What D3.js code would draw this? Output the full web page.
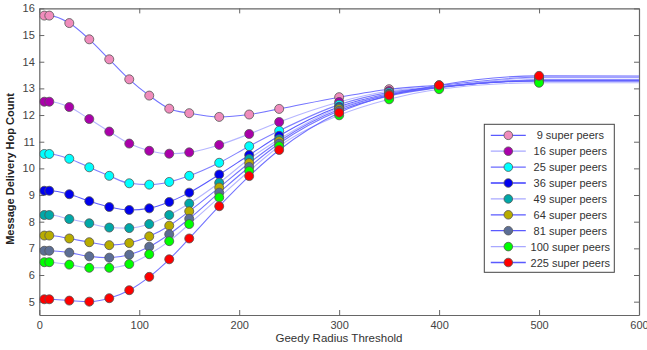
<!DOCTYPE html>
<html>
<head>
<meta charset="utf-8">
<script src="https://cdn.jsdelivr.net/npm/d3@7"></script>
<style>
  html, body { margin: 0; padding: 0; background: #fff; }
  svg { display: block; }
  text { font-family: "Liberation Sans", Arial, sans-serif; }
</style>
</head>
<body>
<svg id="chart" width="647" height="350"></svg>
<script>
// ---------- data ----------
const xValues = [5, 10, 30, 50, 70, 90, 110, 130, 150, 180, 210, 240, 300, 350, 400, 500, 1000];
const seriesNames = ["9 super peers", "16 super peers", "25 super peers", "36 super peers", "49 super peers",
                     "64 super peers", "81 super peers", "100 super peers", "225 super peers"];
const peers9   = [15.73, 15.73, 15.45, 14.84, 14.09, 13.34, 12.73, 12.24, 12.07, 11.93, 12.02, 12.23, 12.67, 12.97, 13.12, 13.42, 13.42];
const peers16  = [12.50, 12.50, 12.30, 11.85, 11.38, 10.93, 10.66, 10.55, 10.60, 10.88, 11.29, 11.74, 12.49, 12.90, 13.07, 13.40, 13.40];
const peers25  = [10.54, 10.54, 10.36, 10.04, 9.72, 9.44, 9.39, 9.49, 9.72, 10.21, 10.83, 11.41, 12.39, 12.85, 13.05, 13.32, 13.32];
const peers36  = [9.16, 9.16, 9.03, 8.77, 8.55, 8.44, 8.50, 8.74, 9.09, 9.77, 10.50, 11.22, 12.31, 12.80, 13.05, 13.30, 13.30];
const peers49  = [8.25, 8.25, 8.10, 7.94, 7.78, 7.76, 7.91, 8.25, 8.68, 9.46, 10.35, 11.09, 12.27, 12.78, 13.04, 13.30, 13.30];
const peers64  = [7.48, 7.48, 7.37, 7.23, 7.12, 7.20, 7.45, 7.85, 8.39, 9.28, 10.20, 11.02, 12.22, 12.76, 13.04, 13.28, 13.28];
const peers81  = [6.91, 6.91, 6.84, 6.70, 6.65, 6.76, 7.06, 7.53, 8.11, 9.09, 10.05, 10.93, 12.16, 12.72, 13.03, 13.28, 13.28];
const peers100 = [6.48, 6.48, 6.39, 6.27, 6.27, 6.41, 6.78, 7.27, 7.91, 8.91, 9.90, 10.83, 11.99, 12.59, 12.97, 13.21, 13.21];
const peers225 = [5.09, 5.09, 5.04, 5.00, 5.13, 5.43, 5.93, 6.59, 7.37, 8.58, 9.71, 10.69, 12.09, 12.74, 13.12, 13.47, 13.44];
const xTicks = [0, 100, 200, 300, 400, 500, 600];
const yTicks = [5, 6, 7, 8, 9, 10, 11, 12, 13, 14, 15, 16];

const allSeries = [peers9, peers16, peers25, peers36, peers49, peers64, peers81, peers100, peers225];
const markerColors = ["#f08cbc", "#aa00aa", "#00ffff", "#0000ee", "#00a8a8", "#b8ac00", "#5c6e94", "#00ff00", "#ff0000"];
const lineColors = ["#5a5aff", "#a8a8ff", "#6a6aff", "#3c3cff", "#a8a8ff", "#5a5aff", "#5a5aff", "#a8a8ff", "#5a5aff"];

// ---------- layout ----------
const svg = d3.select("#chart");
const L = 39.3, R = 639, T = 8.4, B = 315;
const x = d3.scaleLinear().domain([0, 600]).range([L, R]);
const y = d3.scaleLinear().domain([4.5, 16]).range([B, T]);
const axisColor = "#666";
const textColor = "#444";

svg.append("defs").append("clipPath").attr("id", "plotclip")
  .append("rect").attr("x", L).attr("y", T).attr("width", R - L).attr("height", B - T);

// axes with inward ticks
function styleAxis(g) {
  g.select(".domain").attr("stroke", axisColor).attr("stroke-width", 1.2);
  g.selectAll(".tick line").attr("stroke", axisColor).attr("stroke-width", 1);
  g.selectAll(".tick text").attr("fill", textColor).style("font-size", "11px")
    .style("font-family", "'Liberation Sans', Arial, sans-serif");
}
svg.append("g").attr("transform", `translate(0,${B})`)
  .call(d3.axisBottom(x).tickValues(xTicks).tickSizeInner(-5).tickSizeOuter(0).tickPadding(6))
  .call(styleAxis);
svg.append("g").attr("transform", `translate(${L},0)`)
  .call(d3.axisLeft(y).tickValues(yTicks).tickSizeInner(-5).tickSizeOuter(0).tickPadding(4.5))
  .call(styleAxis);
svg.append("g").attr("transform", `translate(0,${T})`)
  .call(d3.axisTop(x).tickValues(xTicks).tickSizeInner(-5).tickSizeOuter(0).tickFormat(""))
  .call(styleAxis);
svg.append("g").attr("transform", `translate(${R},0)`)
  .call(d3.axisRight(y).tickValues(yTicks).tickSizeInner(-5).tickSizeOuter(0).tickFormat(""))
  .call(styleAxis);

// axis titles
svg.append("text").attr("x", 339).attr("y", 342).attr("text-anchor", "middle")
  .attr("fill", "#333").style("font-size", "11.5px").text("Geedy Radius Threshold");
svg.append("text").attr("transform", `translate(14,169) rotate(-90)`)
  .attr("text-anchor", "middle").attr("fill", "#222").style("font-size", "11px")
  .style("font-weight", "bold").text("Message Delivery Hop Count");

// ---------- lines and markers ----------
const plot = svg.append("g").attr("clip-path", "url(#plotclip)");
const line = d3.line().x(d => x(d[0])).y(d => y(d[1])).curve(d3.curveMonotoneX);

allSeries.forEach((vals, i) => {
  const pts = xValues.map((xv, j) => [xv, vals[j]]);
  plot.append("path").datum(pts).attr("d", line)
    .attr("fill", "none").attr("stroke", lineColors[i]).attr("stroke-width", 1.1).attr("stroke-opacity", 0.85);
});
allSeries.forEach((vals, i) => {
  const pts = xValues.map((xv, j) => [xv, vals[j]]);
  plot.selectAll(null).data(pts).enter().append("circle")
    .attr("cx", d => x(d[0])).attr("cy", d => y(d[1])).attr("r", 4.5)
    .attr("fill", markerColors[i]).attr("stroke", "#555").attr("stroke-width", 0.8);
});

// ---------- legend ----------
const legX = 484.3, legY = 124.3, legW = 130, legH = 148, rowH = 15.9;
const leg = svg.append("g");
leg.append("rect").attr("x", legX).attr("y", legY).attr("width", legW).attr("height", legH)
  .attr("fill", "#fff").attr("stroke", "#444").attr("stroke-width", 1);
seriesNames.forEach((name, i) => {
  const cy = legY + 11 + i * rowH;
  leg.append("line").attr("x1", legX + 6.5).attr("x2", legX + 41.5).attr("y1", cy).attr("y2", cy)
    .attr("stroke", lineColors[i]).attr("stroke-width", 1.3);
  leg.append("circle").attr("cx", legX + 24).attr("cy", cy).attr("r", 4.3)
    .attr("fill", markerColors[i]).attr("stroke", "#555").attr("stroke-width", 0.8);
  leg.append("text").attr("x", legX + 86).attr("y", cy + 4).attr("text-anchor", "middle")
    .attr("fill", "#333").style("font-size", "11px").text(name);
});
</script>
</body>
</html>
